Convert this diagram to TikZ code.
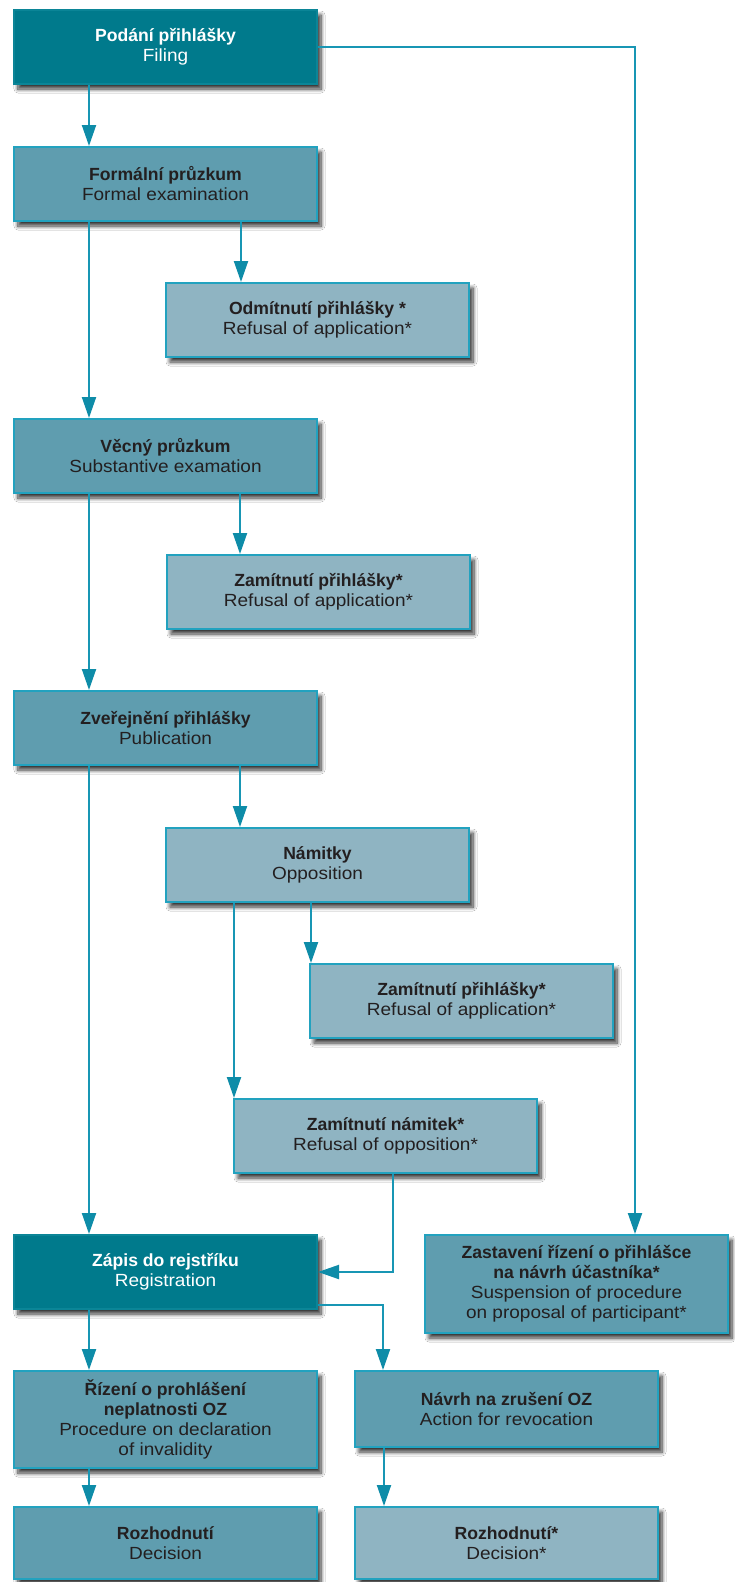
\documentclass[tikz,border=0pt]{standalone}
\usepackage{fontspec}
\setmainfont{Liberation Sans}
\newfontfamily\regfont[FakeStretch=1.08]{Liberation Sans}
\usetikzlibrary{arrows.meta,shadows.blur}
\definecolor{darkfill}{HTML}{007A8C}
\definecolor{darkedge}{HTML}{0B8597}
\definecolor{medfill}{HTML}{5F9DAF}
\definecolor{lightfill}{HTML}{8FB4C2}
\definecolor{boxedge}{HTML}{22A2BF}
\definecolor{connc}{HTML}{1896B4}
\definecolor{tipc}{HTML}{0E8CA8}
\definecolor{txt}{HTML}{231F20}
\tikzset{
  basebox/.style={rectangle, anchor=north west, minimum width=303pt, minimum height=74pt,
    line width=2pt, align=center, inner sep=2pt,
    font=\fontsize{17.6pt}{20pt}\selectfont,
    blur shadow={shadow xshift=4pt, shadow yshift=-5pt, shadow blur radius=4pt, shadow blur steps=8, shadow opacity=80}},
  darkbox/.style={basebox, fill=darkfill, draw=darkedge, text=white},
  medbox/.style={basebox, fill=medfill, draw=boxedge, text=txt},
  lightbox/.style={basebox, fill=lightfill, draw=boxedge, text=txt},
  conn/.style={draw=connc, line width=2pt, -{Triangle[length=21pt,width=14pt,color=tipc]}},
}
\begin{document}
\begin{tikzpicture}[x=1pt,y=-1pt]
\useasboundingbox (0,0) rectangle (734,1582);
\fill[white] (0,0) rectangle (734,1582);

\node[darkbox] (filing) at (13,9) {\textbf{Podání přihlášky}\\{\regfont Filing}};
\node[medbox] (formal) at (13,146) {\textbf{Formální průzkum}\\{\regfont Formal examination}};
\node[lightbox] (refusal1) at (165,282) {\textbf{Odmítnutí přihlášky *}\\{\regfont Refusal of application*}};
\node[medbox] (subst) at (13,418) {\textbf{Věcný průzkum}\\{\regfont Substantive examation}};
\node[lightbox] (zam1) at (166,554) {\textbf{Zamítnutí přihlášky*}\\{\regfont Refusal of application*}};
\node[medbox] (publ) at (13,690) {\textbf{Zveřejnění přihlášky}\\{\regfont Publication}};
\node[lightbox] (oppo) at (165,827) {\textbf{Námitky}\\{\regfont Opposition}};
\node[lightbox] (zam2) at (309,963) {\textbf{Zamítnutí přihlášky*}\\{\regfont Refusal of application*}};
\node[lightbox] (zamn) at (233,1098) {\textbf{Zamítnutí námitek*}\\{\regfont Refusal of opposition*}};
\node[darkbox] (regis) at (13,1234) {\textbf{Zápis do rejstříku}\\{\regfont Registration}};
\node[medbox, minimum height=98pt] (zast) at (424,1234) {\textbf{Zastavení řízení o přihlášce}\\\textbf{na návrh účastníka*}\\{\regfont Suspension of procedure}\\{\regfont on proposal of participant*}};
\node[medbox, minimum height=97pt] (rizeni) at (13,1370) {\textbf{Řízení o prohlášení}\\\textbf{neplatnosti OZ}\\{\regfont Procedure on declaration}\\{\regfont of invalidity}};
\node[medbox, minimum height=76pt] (navrh) at (354,1370) {\textbf{Návrh na zrušení OZ}\\{\regfont Action for revocation}};
\node[medbox, minimum height=72pt] (rozh1) at (13,1506) {\textbf{Rozhodnutí}\\{\regfont Decision}};
\node[lightbox, minimum height=72pt] (rozh2) at (354,1506) {\textbf{Rozhodnutí*}\\{\regfont Decision*}};

\coordinate (c1) at ([xshift=76pt]formal.north west);
\coordinate (c2) at ([xshift=76pt]refusal1.north west);
\coordinate (c3) at ([xshift=76pt]subst.north west);
\coordinate (c4) at ([xshift=74pt]zam1.north west);
\coordinate (c5) at ([xshift=76pt]publ.north west);
\coordinate (c6) at ([xshift=75pt]oppo.north west);
\coordinate (c7) at ([xshift=2pt]zam2.north west);
\coordinate (c8) at ([xshift=1pt]zamn.north west);
\coordinate (c9) at ([xshift=76pt]regis.north west);
\coordinate (c10) at ([xshift=211pt]zast.north west);
\coordinate (c11) at ([xshift=76pt]rizeni.north west);
\coordinate (c12) at ([xshift=29pt]navrh.north west);
\coordinate (c13) at ([xshift=76pt]rozh1.north west);
\coordinate (c14) at ([xshift=30pt]rozh2.north west);
\coordinate (zn) at ([xshift=160pt]zamn.south west);
\coordinate (rg) at ([yshift=5pt]regis.south east);
\coordinate (nv) at ([xshift=30pt]navrh.south west);

\draw[conn] (c1 |- filing.south) -- (c1);
\draw[conn] (c2 |- formal.south) -- (c2);
\draw[conn] (c3 |- formal.south) -- (c3);
\draw[conn] (c4 |- subst.south) -- (c4);
\draw[conn] (c5 |- subst.south) -- (c5);
\draw[conn] (c6 |- publ.south) -- (c6);
\draw[conn] (c7 |- oppo.south) -- (c7);
\draw[conn] (c8 |- oppo.south) -- (c8);
\draw[conn] (c9 |- publ.south) -- (c9);
\draw[conn] (filing.east) -| (c10);
\draw[conn] (zn) |- (regis.east);
\draw[conn] (c11 |- regis.south) -- (c11);
\draw[conn] (rg) -| (c12);
\draw[conn] (c13 |- rizeni.south) -- (c13);
\draw[conn] (nv) -- (c14);
\end{tikzpicture}
\end{document}
